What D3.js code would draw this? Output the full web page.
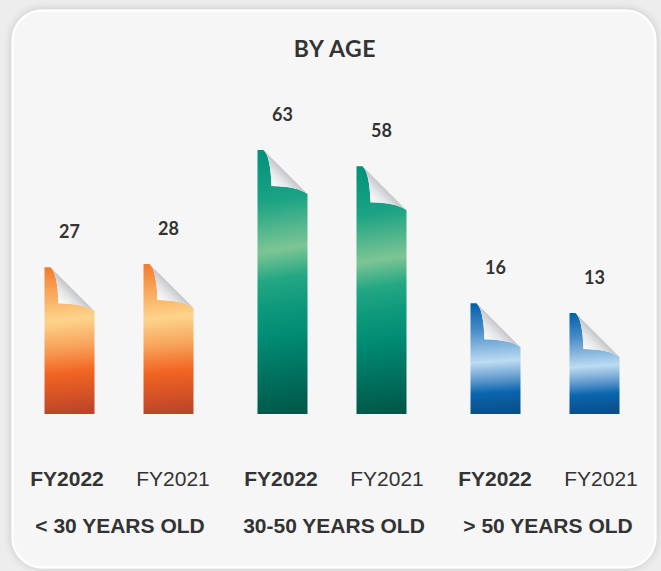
<!DOCTYPE html>
<html>
<head>
<meta charset="utf-8">
<script src="https://cdn.jsdelivr.net/npm/d3@7/dist/d3.min.js"></script>
<style>
  html, body { margin: 0; padding: 0; background: #ededed; }
  svg { display: block; }
</style>
</head>
<body>
<svg width="661" height="571"></svg>
<script>
const categories = ['< 30 YEARS OLD', '30-50 YEARS OLD', '> 50 YEARS OLD'];
const years = ['FY2022', 'FY2021'];
const fy2022 = [27, 63, 16];
const fy2021 = [28, 58, 13];

const baseline = 414;
const barW = 50;

const svg = d3.select('svg');
const defs = svg.append('defs');

// soft shadow around the card
const shadow = defs.append('filter').attr('id', 'shadow')
  .attr('x', '-10%').attr('y', '-10%').attr('width', '120%').attr('height', '120%');
shadow.append('feGaussianBlur').attr('in', 'SourceAlpha').attr('stdDeviation', 5);
shadow.append('feOffset').attr('dx', 0).attr('dy', 0).attr('result', 'blur');
shadow.append('feComponentTransfer').append('feFuncA').attr('type', 'linear').attr('slope', 0.18);
const merge = shadow.append('feMerge');
merge.append('feMergeNode');
merge.append('feMergeNode').attr('in', 'SourceGraphic');

svg.append('rect')
  .attr('x', 12.5).attr('y', 10.5)
  .attr('width', 643).attr('height', 557)
  .attr('rx', 30)
  .attr('fill', '#f6f6f6')
  .attr('stroke', '#ffffff')
  .attr('stroke-width', 2)
  .attr('filter', 'url(#shadow)');

// gradients, one family per age group
const palettes = [
  [[0, '#f27a2b'], [0.12, '#f7994a'], [0.37, '#fdd48c'], [0.55, '#f8a45c'], [0.73, '#f26522'], [1, '#bf4529']],
  [[0, '#00917a'], [0.2, '#1ba384'], [0.39, '#7dc594'], [0.5, '#24a784'], [0.6, '#0f9a7c'], [0.72, '#008b74'], [1, '#005a4b']],
  [[0, '#005fa8'], [0.25, '#4a8dca'], [0.54, '#bcdcf1'], [0.7, '#5f99cd'], [0.82, '#0a66af'], [1, '#0a4e8a']]
];
palettes.forEach((stops, i) => {
  const g = defs.append('linearGradient').attr('id', 'grad' + i)
    .attr('x1', 0).attr('y1', 0).attr('x2', 0.03).attr('y2', 1);
  stops.forEach(s => g.append('stop').attr('offset', s[0]).attr('stop-color', s[1]));
});
// curl: grey along the fold line, white towards the inner corner
const curlGrad = defs.append('linearGradient').attr('id', 'curl')
  .attr('x1', 0.5).attr('y1', 0.5).attr('x2', 0.17).attr('y2', 0.83);
curlGrad.append('stop').attr('offset', 0).attr('stop-color', '#c4c6ca');
curlGrad.append('stop').attr('offset', 0.4).attr('stop-color', '#e4e5e7');
curlGrad.append('stop').attr('offset', 1).attr('stop-color', '#ffffff');

// scales
const x0 = d3.scalePoint().domain(categories).range([120, 548]);
const xGroup = d3.scalePoint().domain(categories).range([119, 545]);
const xBar = d3.scalePoint().domain(years).range([-49.5, 49.5]);
const xLab = d3.scalePoint().domain(years).range([-53, 53]);
const y = d3.scaleLinear().domain([-18, 63]).range([baseline, 150]);

const data = [];
categories.forEach((c, i) => {
  data.push({ cat: c, year: 'FY2022', value: fy2022[i], gi: i });
  data.push({ cat: c, year: 'FY2021', value: fy2021[i], gi: i });
});

// title
svg.append('text')
  .attr('x', 335).attr('y', 57)
  .attr('text-anchor', 'middle')
  .style('font-family', 'Lato, sans-serif')
  .style('font-weight', 700)
  .style('font-size', '23px')
  .style('letter-spacing', '0.6px')
  .attr('fill', '#333')
  .text('BY AGE');

const bars = svg.selectAll('g.bar')
  .data(data)
  .enter()
  .append('g')
  .attr('class', 'bar')
  .attr('transform', d => `translate(${xGroup(d.cat) + xBar(d.year) - barW / 2},${y(d.value)})`);

bars.append('path')
  .attr('d', d => {
    const h = baseline - y(d.value);
    return `M0,${h} V0 H6 Q13,6 14,36 Q40,36.5 ${barW},44 V${h} Z`;
  })
  .attr('fill', d => `url(#grad${d.gi})`);

bars.append('path')
  .attr('d', `M6,0 L${barW},44 Q40,36.5 14,36 Q13,6 6,0 Z`)
  .attr('fill', 'url(#curl)');

bars.append('text')
  .attr('x', barW / 2)
  .attr('y', -29)
  .attr('text-anchor', 'middle')
  .style('font-family', 'Lato, sans-serif')
  .style('font-weight', 700)
  .style('font-size', '18px')
  .attr('fill', '#333')
  .text(d => d.value);

// year labels
svg.selectAll('text.year')
  .data(data)
  .enter()
  .append('text')
  .attr('class', 'year')
  .attr('x', d => x0(d.cat) + xLab(d.year))
  .attr('y', 486)
  .attr('text-anchor', 'middle')
  .style('font-family', '"Liberation Sans", Arial, sans-serif')
  .style('font-weight', d => d.year === 'FY2022' ? 700 : 400)
  .style('font-size', '21px')
  .attr('fill', '#333')
  .text(d => d.year);

// category labels
svg.selectAll('text.cat')
  .data(categories)
  .enter()
  .append('text')
  .attr('class', 'cat')
  .attr('x', d => x0(d))
  .attr('y', 533)
  .attr('text-anchor', 'middle')
  .style('font-family', '"Liberation Sans", Arial, sans-serif')
  .style('font-weight', 700)
  .style('font-size', '21px')
  .attr('fill', '#333')
  .text(d => d);
</script>
</body>
</html>
